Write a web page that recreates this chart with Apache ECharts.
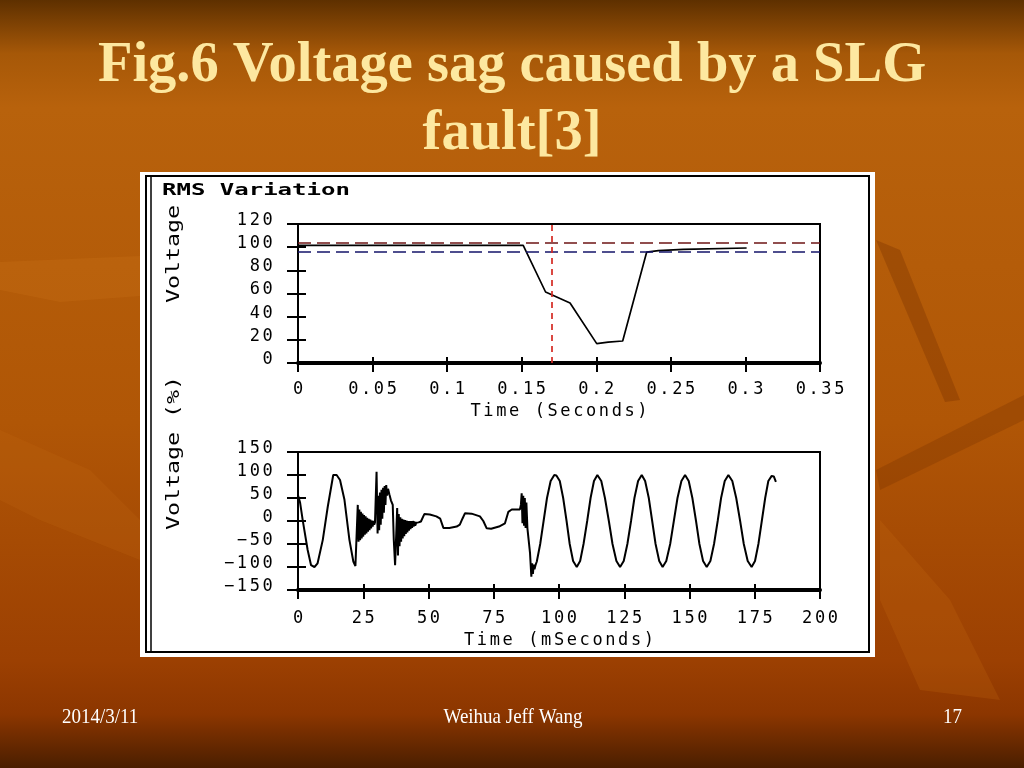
<!DOCTYPE html>
<html><head><meta charset="utf-8">
<script src="https://cdn.jsdelivr.net/npm/echarts@6/dist/echarts.min.js"></script>
<style>html,body{margin:0;padding:0;width:1024px;height:768px;overflow:hidden;background:#a85006}#c{width:1024px;height:768px}</style>
</head><body><div id="c"></div>
<script>
// ---- data ----
const titleLines = ['Fig.6 Voltage sag caused by a SLG', 'fault[3]'];
const footerDate = '2014/3/11';
const footerAuthor = 'Weihua Jeff Wang';
const footerPage = '17';
const rmsTitle = 'RMS Variation';
const rmsYName = 'Voltage';
const waveYName = 'Voltage (%)';
const rmsXName = 'Time (Seconds)';
const waveXName = 'Time (mSeconds)';

// RMS variation (top panel): time in seconds, voltage in %
const rmsTime    = [0,     0.151, 0.166, 0.1824, 0.2003, 0.208, 0.2177, 0.2338, 0.2416, 0.2584, 0.3008];
const rmsVoltage = [101.5, 101.5, 61.3,  51.8,   16.7,   18.1,  19.0,   95.8,   97.0,   98.1,   99.3];
const upperLimit = 104;
const lowerLimit = 96;
const faultTime = 0.166;

// Waveform (bottom panel): time in ms, voltage in %
const waveTime = [
  0, 0.8, 1.8, 3.7, 5.0, 6.3, 7.5, 9.5, 11.4, 13.5, 14.8, 16.1, 17.8, 19.7, 21.2, 22.0, 22.6,
  22.9, 23.2, 23.5, 23.8, 24.1, 24.4, 24.7, 25.0, 25.3, 25.6, 25.9, 26.2, 26.5, 26.8, 27.1, 27.4,
  27.7, 28.0, 28.3, 28.6, 28.9, 29.2, 29.5, 29.9, 30.1, 30.5,
  30.8, 31.1, 31.4, 31.7, 32.0, 32.3, 32.6, 32.9, 33.2, 33.5, 33.8, 34.1, 34.5, 35.0, 35.6, 36.3,
  36.7, 37.2, 37.6, 38.0,
  38.3, 38.6, 38.9, 39.2, 39.5, 39.8, 40.1, 40.4, 40.7, 41.0, 41.3, 41.6, 41.9, 42.2, 42.5, 42.8,
  43.1, 43.4, 43.7, 44.0, 44.3, 44.6, 44.9, 45.3, 46.2, 47.1,
  48.4, 49.0, 50.5, 53.0, 54.5, 55.7, 58.0, 60.8, 62.0, 63.0, 64.0, 66.5, 69.7, 71.0, 72.3, 74.0,
  77.0, 79.3, 80.6, 81.9, 85.0, 85.4,
  85.7, 86.0, 86.3, 86.6, 86.9, 87.2, 87.5, 87.9, 88.9, 89.4, 89.7, 90.0, 90.3, 90.6, 91.0, 91.5,
  92.8, 94.1, 95.4, 96.8, 98.2, 99.0, 100.3, 101.6, 102.9, 104.1, 105.4, 106.8,
  108.1, 109.4, 110.8, 112.1, 113.4, 114.7, 116.2, 117.6, 119.1, 120.5, 122.0, 123.4,
  124.8, 126.2, 127.6, 128.9, 130.3, 131.7, 133.0, 134.4, 135.7, 137.0, 138.4, 139.7,
  141.1, 142.6, 144.0, 145.4, 146.9, 148.3, 149.7, 151.1, 152.5, 153.8, 155.2, 156.6,
  158.0, 159.4, 160.8, 162.1, 163.5, 164.9, 166.4, 167.9, 169.4, 170.8, 172.3, 173.8,
  175.1, 176.4, 177.7, 179.0, 180.2, 181.5, 182.3, 183.1
];
const waveVoltage = [
  56, 40, 2, -63, -96, -100, -92, -41, 31, 100, 100, 89, 46, -41, -88, -98, -98,
  35, -45, 25, -42, 20, -38, 16, -34, 13, -30, 10, -27, 7, -23, 5, -20,
  3, -16, 1, -12, 0, -8, -3, -4, 107, -27,
  55, -20, 62, -8, 68, 5, 72, 18, 76, 35, 78, 55, 70, 58, 45, 35,
  -41, -96, -98, 28,
  -75, 15, -55, 8, -45, 5, -38, 3, -33, 2, -28, 1, -25, 0, -21, 0,
  -18, 0, -15, 0, -12, -1, -10, -4, -3, -1,
  15, 17, 14, 10, 5, -15, -15, -12, -8, 5, 17, 16, 10, 0, -16, -17,
  -12, -5, 20, 25, 25, 35,
  60, -5, 55, -10, 50, -15, 40, -16, -70, -121, -92, -115, -95, -105, -96, -88,
  -50, 0, 50, 87, 100, 99, 87, 50, 0, -50, -87, -100,
  -87, -50, 0, 50, 87, 100, 87, 50, 0, -50, -87, -100,
  -87, -50, 0, 50, 87, 100, 87, 50, 0, -50, -87, -100,
  -87, -50, 0, 50, 87, 100, 87, 50, 0, -50, -87, -100,
  -87, -50, 0, 50, 87, 100, 87, 50, 0, -50, -87, -100,
  -87, -50, 0, 50, 87, 98, 97, 85
];

// ---- chart ----
const MONO = '"DejaVu Sans Mono", "Liberation Mono", monospace';
const SERIF = '"Liberation Serif", "DejaVu Serif", serif';
const richMono = { c: { fontFamily: MONO, fontSize: 17, color: '#000', padding: [0, 1.3, 0, 1.3] } };
function spaced(s) { return String(s).split('').map(function (ch) { return '{c|' + ch + '}'; }).join(''); }
function fmtTop(v) { return spaced(String(+Number(v).toFixed(2))); }
function fmtInt(v) { const n = Math.round(v); return spaced(n < 0 ? '\u2212' + Math.abs(n) : String(n)); }

function mainX(grid, min, max, interval, fmt, name, margin, gap) {
  return {
    type: 'value', gridIndex: grid, min: min, max: max, interval: interval, position: 'bottom',
    axisLine: { onZero: false, lineStyle: { color: '#000', width: 4 } },
    axisTick: { length: 9, lineStyle: { color: '#000', width: 2 } },
    axisLabel: { margin: margin, formatter: fmt, rich: richMono, color: '#000' },
    splitLine: { show: false },
    name: spaced(name), nameLocation: 'middle', nameGap: gap,
    nameTextStyle: { rich: richMono, color: '#000' }
  };
}
function innerX(grid, min, max, interval) {
  return {
    type: 'value', gridIndex: grid, min: min, max: max, interval: interval, position: 'bottom',
    axisLine: { show: false, onZero: false },
    axisTick: { inside: true, length: 6, lineStyle: { color: '#000', width: 2 } },
    axisLabel: { show: false }, splitLine: { show: false }
  };
}
function mainY(grid, min, max, interval, fmt) {
  return {
    type: 'value', gridIndex: grid, min: min, max: max, interval: interval, position: 'left',
    axisLine: { show: true, onZero: false, lineStyle: { color: '#000', width: 2 } },
    axisTick: { show: true, length: 11, lineStyle: { color: '#000', width: 2 } },
    axisLabel: { margin: 24, formatter: fmt, rich: richMono, color: '#000', padding: [0, 0, 7, 0] },
    splitLine: { show: false }
  };
}
function innerY(grid, min, max, interval) {
  return {
    type: 'value', gridIndex: grid, min: min, max: max, interval: interval, position: 'left',
    axisLine: { show: false, onZero: false },
    axisTick: { show: true, inside: true, length: 8, lineStyle: { color: '#000', width: 2 } },
    axisLabel: { show: false }, splitLine: { show: false }
  };
}

const chart = echarts.init(document.getElementById('c'));
chart.setOption({
  animation: false,
  backgroundColor: 'transparent',
  grid: [
    { left: 298, top: 224, width: 522, height: 139, show: true, backgroundColor: '#fff', borderColor: '#000', borderWidth: 2 },
    { left: 298, top: 452, width: 522, height: 138, show: true, backgroundColor: '#fff', borderColor: '#000', borderWidth: 2 }
  ],
  xAxis: [
    mainX(0, 0, 0.35, 0.05, fmtTop, rmsXName, 18, 40),
    innerX(0, 0, 0.35, 0.05),
    mainX(1, 0, 200, 25, fmtInt, waveXName, 20, 42),
    innerX(1, 0, 200, 25)
  ],
  yAxis: [
    mainY(0, 0, 120, 20, fmtInt),
    innerY(0, 0, 120, 20),
    mainY(1, -150, 150, 50, fmtInt),
    innerY(1, -150, 150, 50)
  ],
  series: [
    {
      type: 'line', xAxisIndex: 0, yAxisIndex: 0, showSymbol: false, symbol: 'none',
      data: rmsTime.map(function (t, i) { return [t, rmsVoltage[i]]; }),
      lineStyle: { color: '#000', width: 1.7 },
      z: 3,
      markLine: {
        silent: true, symbol: 'none', label: { show: false }, animation: false,
        data: [
          { yAxis: upperLimit, lineStyle: { color: '#6e1414', type: [13, 6], width: 1.7 } },
          { yAxis: lowerLimit, lineStyle: { color: '#14146a', type: [13, 6], width: 1.7 } },
          { xAxis: faultTime, lineStyle: { color: '#d42a22', type: [6, 5], width: 1.7 } }
        ]
      }
    },
    {
      type: 'line', xAxisIndex: 2, yAxisIndex: 2, showSymbol: false, symbol: 'none',
      data: waveTime.map(function (t, i) { return [t, waveVoltage[i]]; }),
      lineStyle: { color: '#000', width: 2 }
    }
  ],
  graphic: [
    { type: 'rect', z: -100, shape: { x: 0, y: 0, width: 1024, height: 768 },
      style: { fill: { type: 'linear', x: 0, y: 0, x2: 0, y2: 1, colorStops: [
        { offset: 0, color: '#5e3000' }, { offset: 0.07, color: '#a65808' }, { offset: 0.14, color: '#b8620c' },
        { offset: 0.55, color: '#b05606' }, { offset: 0.86, color: '#9c4002' }, { offset: 0.93, color: '#8c3600' },
        { offset: 1, color: '#4a1e00' } ] } } },
    // decorative leaf strokes of the slide background
    { type: 'polygon', z: -90, shape: { points: [[876, 240], [900, 250], [960, 400], [945, 402]] }, style: { fill: 'rgba(120,50,0,0.35)' } },
    { type: 'polygon', z: -90, shape: { points: [[876, 470], [1024, 395], [1024, 420], [880, 490]] }, style: { fill: 'rgba(120,50,0,0.3)' } },
    { type: 'polygon', z: -90, shape: { points: [[0, 262], [140, 256], [140, 296], [60, 302], [0, 290]] }, style: { fill: 'rgba(215,125,35,0.18)' } },
    { type: 'polygon', z: -90, shape: { points: [[880, 520], [950, 600], [1000, 700], [920, 690], [880, 600]] }, style: { fill: 'rgba(200,110,20,0.22)' } },
    { type: 'polygon', z: -90, shape: { points: [[0, 430], [90, 470], [140, 520], [140, 560], [40, 520], [0, 500]] }, style: { fill: 'rgba(200,110,20,0.18)' } },
    // white figure panel with border
    { type: 'rect', z: -10, shape: { x: 140, y: 172, width: 735, height: 485 }, style: { fill: '#fff' } },
    { type: 'rect', z: -5, shape: { x: 146, y: 176, width: 723, height: 476 }, style: { fill: null, stroke: '#000', lineWidth: 2 } },
    { type: 'line', z: -5, shape: { x1: 151, y1: 176, x2: 151, y2: 652 }, style: { stroke: '#000', lineWidth: 1.5 } },
    // slide title
    { type: 'text', x: 512, y: 66, scaleY: 1.0, z: 10,
      style: { text: titleLines[0], font: 'bold 56.5px ' + SERIF, fill: '#fde8a0', align: 'center', verticalAlign: 'middle',
               textAlign: 'center', textVerticalAlign: 'middle', shadowColor: 'rgba(40,15,0,0.9)', shadowOffsetX: 2, shadowOffsetY: 2, shadowBlur: 2 } },
    { type: 'text', x: 512, y: 134, scaleY: 1.0, z: 10,
      style: { text: titleLines[1], font: 'bold 56.5px ' + SERIF, fill: '#fde8a0', align: 'center', verticalAlign: 'middle',
               textAlign: 'center', textVerticalAlign: 'middle', shadowColor: 'rgba(40,15,0,0.9)', shadowOffsetX: 2, shadowOffsetY: 2, shadowBlur: 2 } },
    // figure texts
    { type: 'text', x: 162, y: 191, scaleX: 1.5, z: 10,
      style: { text: rmsTitle, font: 'bold 16px ' + MONO, fill: '#000', align: 'left', verticalAlign: 'middle', textAlign: 'left', textVerticalAlign: 'middle' } },
    { type: 'text', x: 175, y: 254, rotation: Math.PI / 2, scaleX: 1.37, z: 10,
      style: { text: rmsYName, font: '17px ' + MONO, fill: '#000', align: 'center', verticalAlign: 'middle', textAlign: 'center', textVerticalAlign: 'middle' } },
    { type: 'text', x: 175, y: 453, rotation: Math.PI / 2, scaleX: 1.37, z: 10,
      style: { text: waveYName, font: '17px ' + MONO, fill: '#000', align: 'center', verticalAlign: 'middle', textAlign: 'center', textVerticalAlign: 'middle' } },
    // footer
    { type: 'text', x: 62, y: 718, scaleY: 1.1, z: 10,
      style: { text: footerDate, font: '19px ' + SERIF, fill: '#fff', align: 'left', verticalAlign: 'middle', textAlign: 'left', textVerticalAlign: 'middle', shadowColor: 'rgba(0,0,0,0.8)', shadowOffsetX: 1, shadowOffsetY: 1 } },
    { type: 'text', x: 513, y: 718, scaleY: 1.1, z: 10,
      style: { text: footerAuthor, font: '19px ' + SERIF, fill: '#fff', align: 'center', verticalAlign: 'middle', textAlign: 'center', textVerticalAlign: 'middle', shadowColor: 'rgba(0,0,0,0.8)', shadowOffsetX: 1, shadowOffsetY: 1 } },
    { type: 'text', x: 962, y: 718, scaleY: 1.1, z: 10,
      style: { text: footerPage, font: '19px ' + SERIF, fill: '#fff', align: 'right', verticalAlign: 'middle', textAlign: 'right', textVerticalAlign: 'middle', shadowColor: 'rgba(0,0,0,0.8)', shadowOffsetX: 1, shadowOffsetY: 1 } }
  ]
});
</script>
</body></html>
